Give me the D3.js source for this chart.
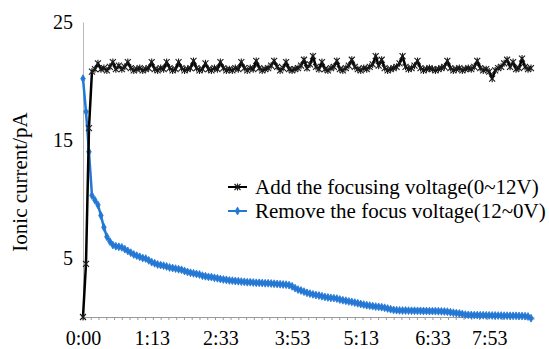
<!DOCTYPE html>
<html>
<head>
<meta charset="utf-8">
<script src="https://cdn.jsdelivr.net/npm/d3@7"></script>
<style>
  body { margin: 0; background: #fff; }
  svg { display: block; }
  svg text { font-family: "Liberation Serif", "Times New Roman", Times, "DejaVu Serif", serif; }
</style>
</head>
<body>
<svg id="chart"></svg>
<script>
// time labels shown on the category axis, and the sample index they sit on
const timeLabels = ['0:00', '1:13', '2:33', '3:53', '5:13', '6:33', '7:53'];
const labelIndex = [0, 23, 46, 70, 93, 117, 136];

const yTicks = [5, 15, 25];

const seriesNames = ['Add the focusing voltage(0~12V)', 'Remove the focus voltage(12~0V)'];

// ionic current (pA), focusing voltage switched on
const addVoltage = [
  0, 4.5, 16, 20.8, 21.0, 21.5, 21.0, 21.1, 20.9, 21.2,
  21.6, 21.0, 21.3, 21.0, 21.2, 21.6, 21.1, 20.9, 21.0, 21.1,
  20.9, 21.0, 21.1, 21.6, 21.0, 20.9, 21.1, 21.0, 21.6, 21.1,
  20.9, 21.0, 21.6, 21.1, 20.9, 21.0, 21.1, 21.7, 21.1, 20.9,
  21.0, 21.5, 21.0, 20.9, 21.1, 21.0, 21.6, 21.1, 20.9, 21.0,
  20.9, 21.1, 21.0, 21.6, 21.1, 20.9, 21.1, 21.0, 21.7, 21.1,
  20.9, 21.0, 21.1, 21.3, 21.7, 21.2, 20.9, 21.1, 21.6, 21.0,
  20.9, 21.0, 21.1, 21.3, 21.8, 21.1, 21.4, 22.1, 21.2, 21.0,
  21.6, 21.0, 20.9, 21.1, 21.2, 21.7, 21.0, 20.9, 21.1, 21.3,
  21.8, 21.2, 21.0, 20.9, 21.1, 21.0, 21.2, 21.4, 22.1, 21.3,
  21.8, 21.1, 20.9, 21.0, 21.1, 21.2, 21.5, 22.1, 21.2, 21.0,
  21.1, 21.3, 21.7, 21.1, 20.9, 21.0, 21.1, 21.0, 20.9, 21.0,
  21.1, 21.2, 21.7, 21.1, 20.9, 21.0, 21.1, 20.9, 21.0, 21.1,
  21.0, 21.2, 21.7, 21.1, 20.9, 21.0, 20.8, 20.2, 20.9, 21.1,
  21.2, 21.5, 21.8, 21.2, 21.6, 21.0, 21.1, 21.9, 21.2, 21.0,
  21.1
];

// ionic current (pA), focusing voltage removed
const removeVoltage = [
  20.2, 17.4, 14.0, 10.3, 9.9, 9.5, 8.6, 7.6, 6.8, 6.4,
  6.1, 6.0, 5.95, 5.9, 5.75, 5.6, 5.45, 5.3, 5.2, 5.1,
  5.0, 4.95, 4.8, 4.65, 4.55, 4.45, 4.4, 4.35, 4.28, 4.2,
  4.15, 4.1, 4.05, 4.0, 3.9, 3.82, 3.75, 3.7, 3.65, 3.6,
  3.5, 3.45, 3.4, 3.38, 3.32, 3.28, 3.22, 3.18, 3.15, 3.1,
  3.08, 3.05, 3.03, 3.0, 2.98, 2.95, 2.95, 2.92, 2.9, 2.9,
  2.88, 2.86, 2.86, 2.84, 2.82, 2.8, 2.78, 2.76, 2.74, 2.7,
  2.6, 2.45, 2.32, 2.25, 2.15, 2.05, 1.98, 1.92, 1.86, 1.82,
  1.76, 1.7, 1.66, 1.62, 1.6, 1.56, 1.48, 1.42, 1.38, 1.32,
  1.28, 1.22, 1.16, 1.1, 1.05, 1.0, 0.96, 0.92, 0.88, 0.86,
  0.83, 0.78, 0.72, 0.66, 0.6, 0.58, 0.56, 0.55, 0.55, 0.54,
  0.53, 0.53, 0.52, 0.52, 0.51, 0.51, 0.5, 0.5, 0.5, 0.49,
  0.48, 0.47, 0.45, 0.4, 0.36, 0.33, 0.3, 0.25, 0.2, 0.18,
  0.17, 0.16, 0.16, 0.15, 0.15, 0.14, 0.14, 0.13, 0.13, 0.12,
  0.12, 0.11, 0.11, 0.1, 0.1, 0.1, 0.09, 0.08, 0.07, 0.04,
  -0.1
];

function translate(x, y) {
    return `translate(${x},${y})`;
}

const width = 549, height = 349;
const plot = { left: 83, right: 531, top: 22, bottom: 317 };
const black = '#000', blue = '#2478d4';

const svg = d3.select('#chart')
    .attr('width', width)
    .attr('height', height);

const x = d3.scaleLinear()
    .domain([0, addVoltage.length - 1])
    .range([plot.left, plot.right]);

const y = d3.scaleLinear()
    .domain([0, 25])
    .range([plot.bottom, plot.top]);

// axes
let xMinor = svg.append('g')
    .attr('transform', translate(0, plot.bottom))
    .call(d3.axisBottom(x)
        .tickValues(d3.range(0, addVoltage.length + 0.5, 2.6))
        .tickSize(3)
        .tickSizeOuter(0)
        .tickFormat(''));
xMinor.select('.domain').attr('stroke', '#9a9a9a').attr('d', `M${plot.left},0.5H${plot.right + 2}`);
xMinor.selectAll('.tick line').attr('stroke', '#9a9a9a');

let xLabels = svg.append('g')
    .attr('transform', translate(0, plot.bottom))
    .call(d3.axisBottom(x)
        .tickValues(labelIndex)
        .tickSize(0)
        .tickPadding(14)
        .tickFormat((d, i) => timeLabels[i]));
xLabels.select('.domain').remove();
xLabels.selectAll('text')
    .attr('font-size', 20)
    .attr('fill', '#000');

let yAxis = svg.append('g')
    .attr('transform', translate(plot.left, 0))
    .call(d3.axisLeft(y)
        .tickValues(yTicks)
        .tickSize(0)
        .tickPadding(10)
        .tickSizeOuter(0));
yAxis.select('.domain').attr('stroke', '#b8b8b8');
yAxis.selectAll('text')
    .attr('font-size', 20)
    .attr('fill', '#000');

svg.append('text')
    .attr('transform', translate(27, 182) + ' rotate(-90)')
    .attr('text-anchor', 'middle')
    .attr('font-size', 21)
    .text('Ionic current/pA');

// series
const line = d3.line()
    .x((d, i) => x(i))
    .y(d => y(d));

const asterisk = 'M-3,-3L3,3M-3,3L3,-3M0,-3.5V3.5';
const diamond = d3.symbol().type(d3.symbolDiamond).size(18);

function drawSeries(values, color, strokeWidth, markerFn) {
    let g = svg.append('g');
    g.append('path')
        .datum(values)
        .attr('fill', 'none')
        .attr('stroke', color)
        .attr('stroke-width', strokeWidth)
        .attr('stroke-linejoin', 'round')
        .attr('d', line);
    let m = g.selectAll('g.pt')
        .data(values)
        .enter()
        .append('g')
        .attr('class', 'pt')
        .attr('transform', (d, i) => translate(x(i), y(d)));
    markerFn(m);
}

function blueMarker(sel) {
    sel.append('path')
        .attr('d', diamond)
        .attr('fill', blue)
        .attr('stroke', blue)
        .attr('stroke-width', 0.8);
}

function blackMarker(sel) {
    sel.append('path')
        .attr('d', asterisk)
        .attr('fill', 'none')
        .attr('stroke', '#1a1a1a')
        .attr('stroke-width', 1.1);
}

drawSeries(removeVoltage, blue, 2.5, blueMarker);
drawSeries(addVoltage, black, 2.5, blackMarker);

// legend
const legend = svg.append('g').attr('transform', translate(228, 187));
const legendRow = 24;
const markers = [blackMarker, blueMarker];
const colors = [black, blue];

seriesNames.forEach((name, i) => {
    let row = legend.append('g').attr('transform', translate(0, legendRow * i));
    row.append('line')
        .attr('x1', 0).attr('x2', 19)
        .attr('y1', 0).attr('y2', 0)
        .attr('stroke', colors[i])
        .attr('stroke-width', 2);
    markers[i](row.append('g').attr('transform', translate(9.5, 0)));
    row.append('text')
        .attr('x', 27)
        .attr('dy', '0.33em')
        .attr('font-size', 21)
        .text(name);
});
</script>
</body>
</html>
